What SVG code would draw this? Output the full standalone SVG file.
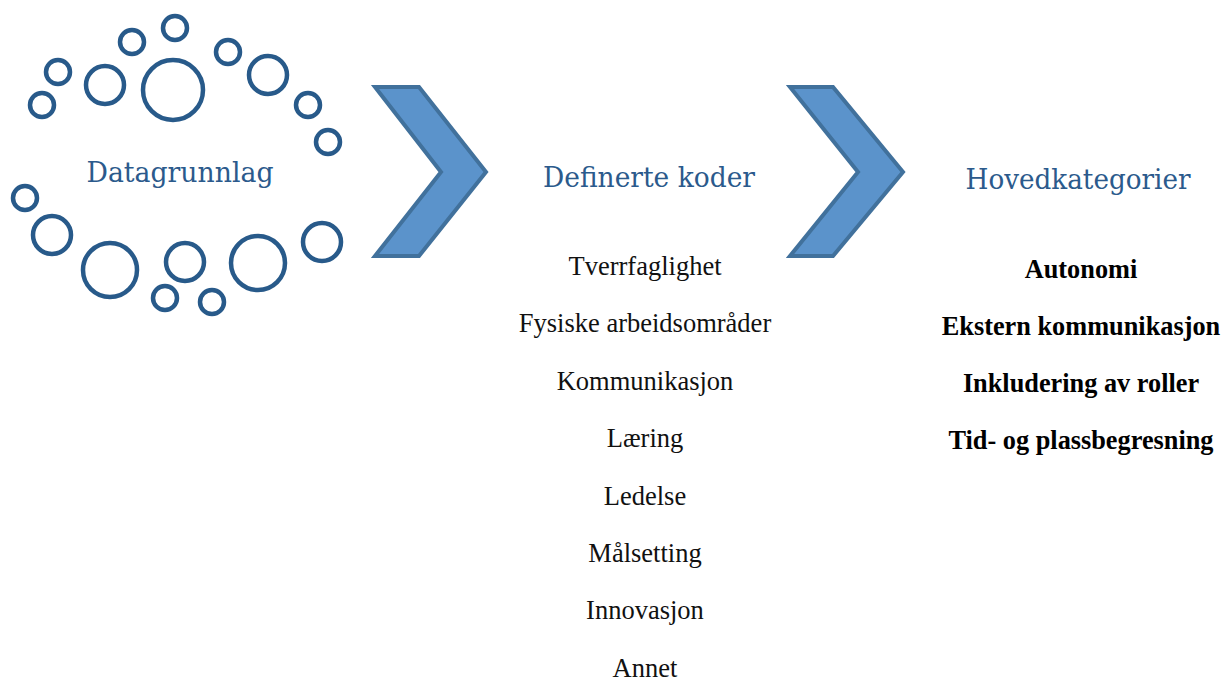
<svg xmlns="http://www.w3.org/2000/svg" width="1223" height="682" viewBox="0 0 1223 682">
  <style>
    .ring { fill: none; stroke: #285a8a; stroke-width: 4.5; }
    .chevron { fill: #5b93cb; stroke: #41719c; stroke-width: 4; stroke-linejoin: miter; }
    .head { font-family: "DejaVu Serif", "Liberation Serif", serif; font-size: 27px; fill: #2b5a8c; text-anchor: middle; }
    .item { font-family: "Liberation Serif", "Times New Roman", serif; font-size: 26.5px; fill: #111; text-anchor: middle; }
    .cat { font-family: "Liberation Serif", "Times New Roman", serif; font-size: 26.3px; font-weight: bold; fill: #000; text-anchor: middle; }
  </style>

  <rect width="1223" height="682" fill="#ffffff"/>

  <!-- Source data: ring cluster with its label -->
  <g id="datagrunnlag">
    <circle class="ring" cx="175" cy="28" r="12"/>
    <circle class="ring" cx="132" cy="42" r="12"/>
    <circle class="ring" cx="58" cy="72" r="12"/>
    <circle class="ring" cx="42" cy="105" r="12"/>
    <circle class="ring" cx="105" cy="85" r="19"/>
    <circle class="ring" cx="173" cy="90" r="30"/>
    <circle class="ring" cx="228" cy="52" r="12"/>
    <circle class="ring" cx="268" cy="75" r="19"/>
    <circle class="ring" cx="308" cy="105" r="12"/>
    <circle class="ring" cx="328" cy="142" r="12"/>
    <circle class="ring" cx="25" cy="198" r="12"/>
    <circle class="ring" cx="52" cy="235" r="19"/>
    <circle class="ring" cx="110" cy="270" r="27"/>
    <circle class="ring" cx="185" cy="262" r="19"/>
    <circle class="ring" cx="165" cy="298" r="12"/>
    <circle class="ring" cx="212" cy="302" r="12"/>
    <circle class="ring" cx="258" cy="263" r="27"/>
    <circle class="ring" cx="322" cy="242" r="19"/>
    <text class="head" x="180" y="182" textLength="187" lengthAdjust="spacingAndGlyphs">Datagrunnlag</text>
  </g>

  <!-- Step chevrons -->
  <g id="connectors">
    <polygon class="chevron" points="375,87 419,87 486,172 419,256 375,256 441,172"/>
    <polygon class="chevron" points="790,87 833,87 903,172 833,256 790,256 858,172"/>
  </g>

  <!-- Defined codes -->
  <g id="definerte-koder">
    <text class="head" x="649" y="187" textLength="212" lengthAdjust="spacingAndGlyphs">Definerte koder</text>
    <text class="item" x="645" y="275">Tverrfaglighet</text>
    <text class="item" x="645" y="332">Fysiske arbeidsområder</text>
    <text class="item" x="645" y="390">Kommunikasjon</text>
    <text class="item" x="645" y="447">Læring</text>
    <text class="item" x="645" y="505">Ledelse</text>
    <text class="item" x="645" y="562">Målsetting</text>
    <text class="item" x="645" y="619">Innovasjon</text>
    <text class="item" x="645" y="677">Annet</text>
  </g>

  <!-- Main categories -->
  <g id="hovedkategorier">
    <text class="head" x="1078" y="189" textLength="225" lengthAdjust="spacingAndGlyphs">Hovedkategorier</text>
    <text class="cat" x="1081" y="278">Autonomi</text>
    <text class="cat" x="1081" y="335">Ekstern kommunikasjon</text>
    <text class="cat" x="1081" y="392">Inkludering av roller</text>
    <text class="cat" x="1081" y="449">Tid- og plassbegresning</text>
  </g>
</svg>
